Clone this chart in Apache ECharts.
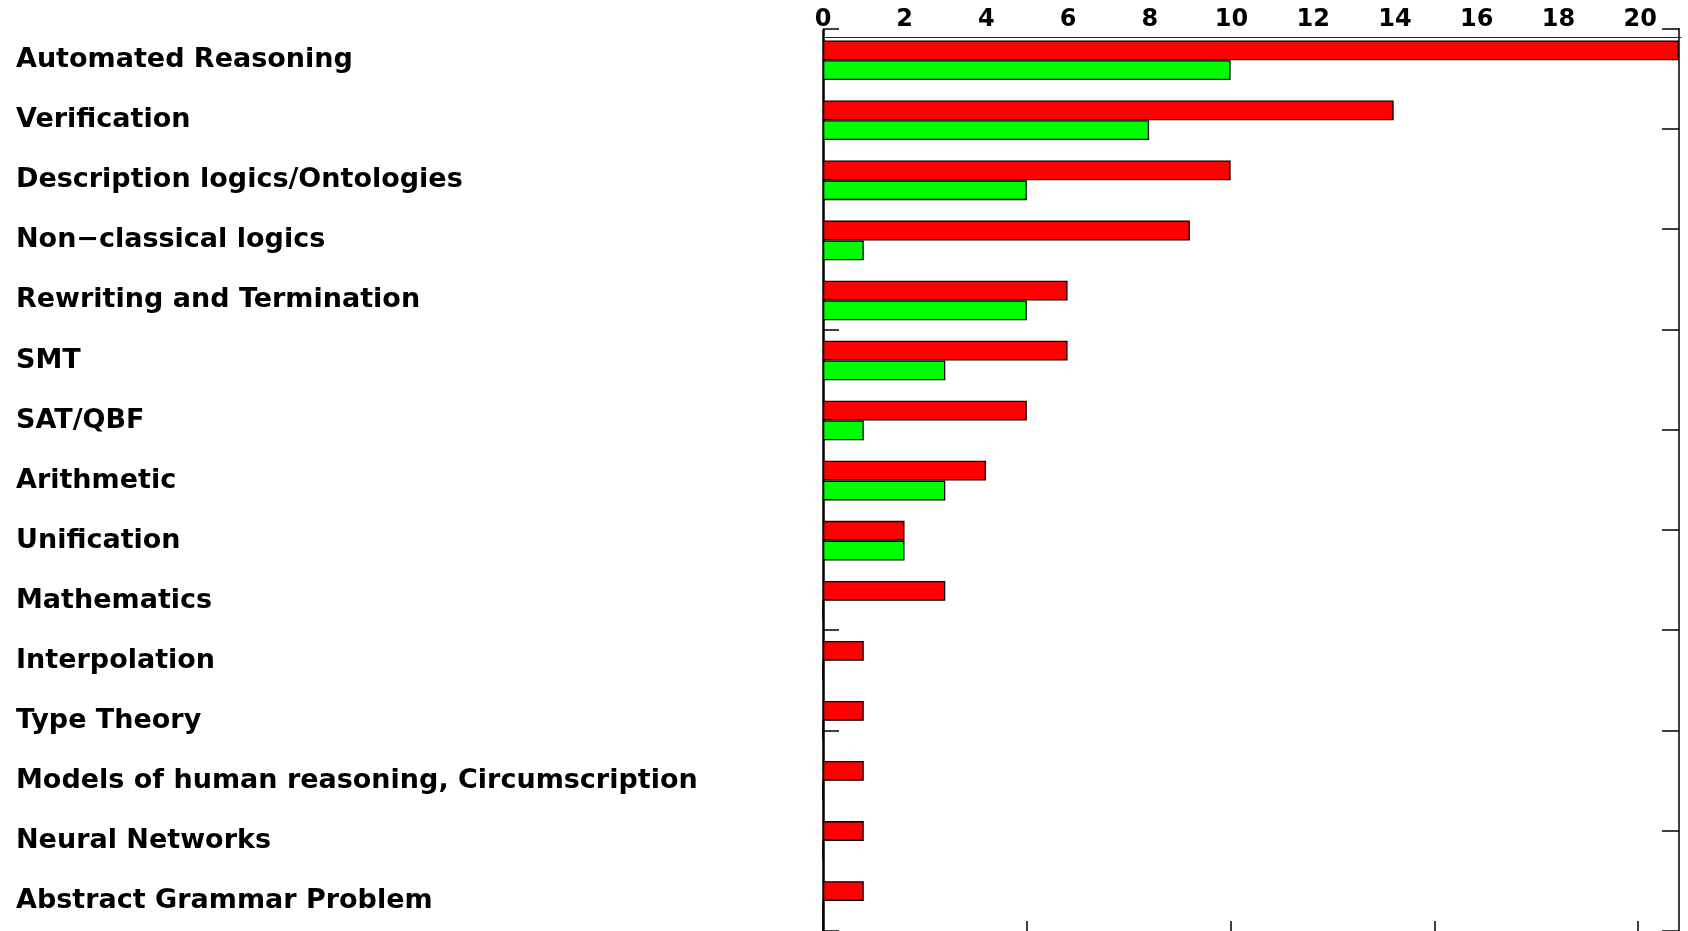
<!DOCTYPE html>
<html>
<head>
<meta charset="utf-8">
<script src="https://cdn.jsdelivr.net/npm/echarts@6/dist/echarts.min.js"></script>
<style>
html,body{margin:0;padding:0;background:#fff;}
#chart{width:1688px;height:931px;}
</style>
</head>
<body>
<div id="chart"></div>
<script>
const categories = [
  'Automated Reasoning',
  'Verification',
  'Description logics/Ontologies',
  'Non\u2212classical logics',
  'Rewriting and Termination',
  'SMT',
  'SAT/QBF',
  'Arithmetic',
  'Unification',
  'Mathematics',
  'Interpolation',
  'Type Theory',
  'Models of human reasoning, Circumscription',
  'Neural Networks',
  'Abstract Grammar Problem'
];
const redValues   = [21, 14, 10, 9, 6, 6, 5, 4, 2, 3, 1, 1, 1, 1, 1];
const greenValues = [10, 8, 5, 1, 5, 3, 1, 3, 2, 0, 0, 0, 0, 0, 0];
const topTickLabels = [0, 2, 4, 6, 8, 10, 12, 14, 16, 18, 20];
const bottomTicks = [0, 5, 10, 15, 20];

const FONT = 'DejaVu Sans';
const chart = echarts.init(document.getElementById('chart'), null, {renderer: 'canvas'});

const option = {
  backgroundColor: '#ffffff',
  animation: false,
  grid: [
    {left: 823, right: 9, top: 30.2, height: 904.3, containLabel: false},
    {left: 823, right: 9, top: 28.4, height: 905.4, containLabel: false},
    {left: 823, right: 7, top: 37.3, height: 890, containLabel: false}
  ],
  xAxis: [
    {
      gridIndex: 0, type: 'value', position: 'bottom', min: 0, max: 21,
      axisLine: {show: false},
      axisTick: {show: true, inside: true, length: 10, customValues: bottomTicks,
                 lineStyle: {color: '#000', width: 1.5}},
      axisLabel: {show: false},
      splitLine: {show: false}
    },
    {
      gridIndex: 1, type: 'value', min: 0, max: 21,
      show: false
    },
    {
      gridIndex: 2, type: 'value', position: 'top', min: 0, max: 21,
      axisLine: {show: true, onZero: false, lineStyle: {color: '#222', width: 1}},
      axisTick: {show: true, length: 6, customValues: [0], lineStyle: {color: '#000', width: 1}},
      splitLine: {show: false},
      axisLabel: {
        show: true, customValues: topTickLabels, margin: 6,
        fontFamily: FONT, fontWeight: 'bold', fontSize: 24, color: '#000'
      }
    }
  ],
  yAxis: [
    {
      gridIndex: 0, type: 'category', data: categories, inverse: true, position: 'left',
      axisLine: {show: true, lineStyle: {color: '#000', width: 2.5}},
      axisTick: {show: false},
      splitLine: {show: false},
      axisLabel: {
        align: 'left', margin: 807, interval: 0,
        fontFamily: FONT, fontWeight: 'bold', fontSize: 27, color: '#000'
      }
    },
    {
      gridIndex: 1, type: 'value', position: 'left', min: 0, max: 9, interval: 1, inverse: true,
      axisLine: {show: false},
      axisTick: {show: true, inside: true, length: 16, lineStyle: {color: '#000', width: 1.5}},
      axisLabel: {show: false},
      splitLine: {show: false}
    },
    {
      gridIndex: 1, type: 'value', position: 'right', min: 0, max: 9, interval: 1, inverse: true,
      axisLine: {show: true, lineStyle: {color: '#000', width: 1.5}},
      axisTick: {show: true, inside: true, length: 17, lineStyle: {color: '#000', width: 1.5}},
      axisLabel: {show: false},
      splitLine: {show: false}
    },
    {
      gridIndex: 2, type: 'value', show: false
    }
  ],
  series: [
    {
      name: 'red', type: 'bar', xAxisIndex: 0, yAxisIndex: 0,
      data: redValues, barWidth: 19.8, barGap: '0%',
      itemStyle: {color: '#ff0000', borderColor: '#000', borderWidth: 1.3},
      z: 3
    },
    {
      name: 'green', type: 'bar', xAxisIndex: 0, yAxisIndex: 0,
      data: greenValues, barWidth: 19.8, barGap: '0%',
      itemStyle: {color: '#00ff00', borderColor: '#000', borderWidth: 1.3},
      z: 3
    }
  ]
};
chart.setOption(option);
</script>
</body>
</html>
